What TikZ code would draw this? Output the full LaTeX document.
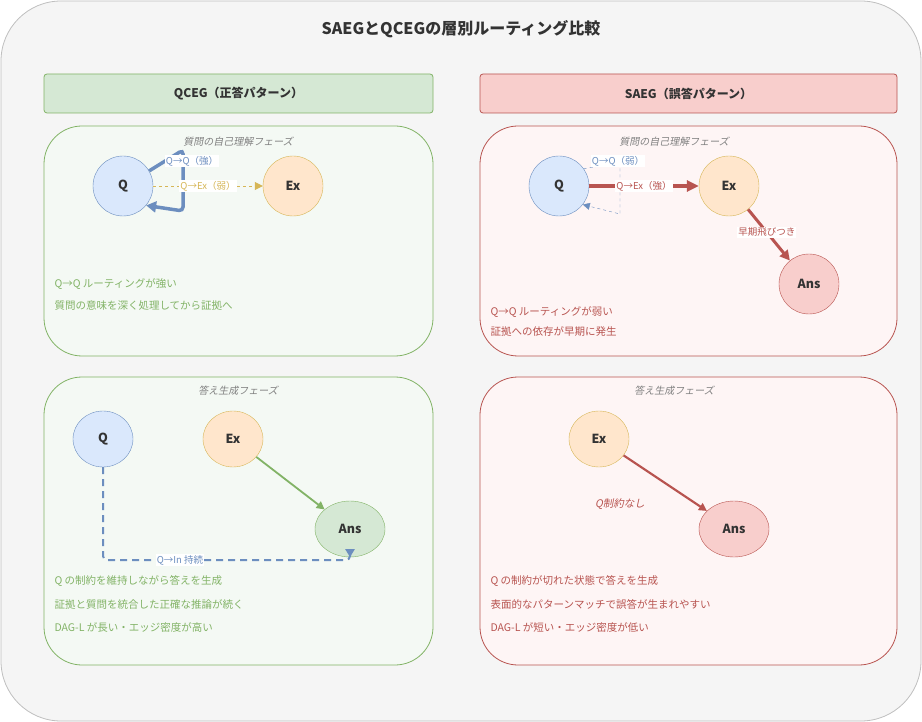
\documentclass[tikz,border=0pt]{standalone}
\usepackage{fontspec}
\setmainfont{Noto Sans CJK JP}
\newfontfamily\slantfont[FakeSlant=0.2]{Noto Sans CJK JP}
\usetikzlibrary{arrows.meta, positioning, shapes, calc}
\definecolor{gfill}{HTML}{D5E8D4}
\definecolor{gline}{HTML}{82B366}
\definecolor{rfill}{HTML}{F8CECC}
\definecolor{rline}{HTML}{B85450}
\definecolor{bfill}{HTML}{DAE8FC}
\definecolor{bline}{HTML}{6C8EBF}
\definecolor{yfill}{HTML}{FFE6CC}
\definecolor{yline}{HTML}{D6B656}
\definecolor{ink}{HTML}{333333}

\begin{document}
\begin{tikzpicture}
[
    x=1pt, y=-1pt,
    panel/.style={draw, rounded corners=38pt, line width=0.8pt},
    header/.style={draw, rounded corners=3pt, line width=0.8pt, font=\fontsize{12}{14}\selectfont\bfseries, text=ink},
    phase/.style={font=\fontsize{10}{12}\selectfont\slantfont, text=gray},
    qnode/.style={circle, draw=bline, fill=bfill, minimum size=60pt, font=\fontsize{12.5}{14}\selectfont\bfseries, text=ink},
    exnode/.style={circle, draw=yline, fill=yfill, minimum size=60pt, font=\fontsize{12.5}{14}\selectfont\bfseries, text=ink},
    qoval/.style={ellipse, draw=bline, fill=bfill, minimum width=60pt, minimum height=56pt, font=\fontsize{12.5}{14}\selectfont\bfseries, text=ink},
    exoval/.style={ellipse, draw=yline, fill=yfill, minimum width=60pt, minimum height=56pt, font=\fontsize{12.5}{14}\selectfont\bfseries, text=ink},
    ansoval/.style={ellipse, minimum width=70pt, minimum height=56pt, font=\fontsize{12.5}{14}\selectfont\bfseries, text=ink},
    note/.style={anchor=west, font=\fontsize{10.5}{12}\selectfont},
    elabel/.style={fill=white, inner sep=1pt, font=\fontsize{9.5}{10}\selectfont},
    arrow/.style={-{Triangle[length=8pt,width=8pt]}}
]

% Background and title
\draw[fill=black!4, draw=black!25, line width=0.8pt, rounded corners=60pt] (1,1) rectangle (921,721);
\node[font=\fontsize{16}{19}\selectfont\bfseries, text=ink] (title) at (461,29) {SAEGとQCEGの層別ルーティング比較};

% Column headers
\node[header, fill=gfill, draw=gline, minimum width=389pt, minimum height=39pt] (hq) at (238.5,93.5) {QCEG（正答パターン）};
\node[header, fill=rfill, draw=rline, minimum width=417pt, minimum height=39pt] (hs) at (688.5,93.5) {SAEG（誤答パターン）};

% Panels
\draw[panel, draw=gline, fill=gfill!25] (44,126) rectangle (433,356);
\draw[panel, draw=rline, fill=rfill!20] (480,126) rectangle (897,356);
\draw[panel, draw=gline, fill=gfill!25] (44,377) rectangle (433,665);
\draw[panel, draw=rline, fill=rfill!20] (480,377) rectangle (897,665);

\node[phase] (p1) at (238,142) {質問の自己理解フェーズ};
\node[phase] (p2) at (674,142) {質問の自己理解フェーズ};
\node[phase] (p3) at (238,391) {答え生成フェーズ};
\node[phase] (p4) at (674,391) {答え生成フェーズ};

% QCEG, self-understanding
\node[qnode] (q1) at (123,186) {Q};
\node[exnode] (ex1) at (293,186) {Ex};
\draw[bline, line width=3.5pt, rounded corners=4pt, -{Triangle[length=10pt,width=11pt]}]
    (q1.30) -- (183,150) -- (183,211) -- (q1.-40);
\node[elabel, text=bline] (l1) at (192,161) {Q→Q（強）};
\draw[yline, dashed, arrow] (q1) -- node[elabel, text=yline] {Q→Ex（弱）} (ex1);
\node[note, text=gline] (n1) at (51,284) {Q→Q ルーティングが強い};
\node[note, text=gline] (n2) at (51,306) {質問の意味を深く処理してから証拠へ};

% SAEG, self-understanding
\node[qnode] (q2) at (559,186) {Q};
\node[exnode] (ex2) at (729,186) {Ex};
\node[circle, draw=rline, fill=rfill, minimum size=60pt, font=\fontsize{12.5}{14}\selectfont\bfseries, text=ink] (ans2) at (809,284) {Ans};
\draw[bline, dashed, -{Triangle[length=7pt,width=7pt]}]
    (q2.35) -- (620,163) -- (620,214) -- (q2.-38);
\node[elabel, text=bline] (l2) at (618,161) {Q→Q（弱）};
\draw[rline, line width=3.5pt, -{Triangle[length=12pt,width=11pt]}] (q2) -- node[elabel, text=rline] {Q→Ex（強）} (ex2);
\draw[rline, line width=3pt, -{Triangle[length=10pt,width=10pt]}] (ex2) -- node[elabel, text=rline, pos=0.45] {早期飛びつき} (ans2);
\node[note, text=rline] (n3) at (487,312) {Q→Q ルーティングが弱い};
\node[note, text=rline] (n4) at (487,332) {証拠への依存が早期に発生};

% QCEG, answer generation
\node[qoval] (q3) at (103,439) {Q};
\node[exoval] (ex3) at (233,439) {Ex};
\node[ansoval, draw=gline, fill=gfill] (ans3) at (350,529) {Ans};
\draw[gline, line width=1.8pt, arrow] (ex3) -- (ans3);
\coordinate (bend3) at (103,560);
\draw[bline, line width=2pt, dash pattern=on 7pt off 5pt, rounded corners=4pt, -{Triangle[length=8pt,width=9pt]}]
    (q3.south) -- (bend3) -| (ans3.south);
\node[elabel, text=bline] (l3) at (180,560) {Q→In 持続};
\node[note, text=gline] (n5) at (51,581) {Q の制約を維持しながら答えを生成};
\node[note, text=gline] (n6) at (51,604) {証拠と質問を統合した正確な推論が続く};
\node[note, text=gline] (n7) at (51,627) {DAG-L が長い・エッジ密度が高い};

% SAEG, answer generation
\node[exoval] (ex4) at (599,439) {Ex};
\node[ansoval, draw=rline, fill=rfill] (ans4) at (734,529) {Ans};
\draw[rline, line width=2.2pt, arrow] (ex4) -- (ans4);
\node[font=\fontsize{10.5}{12}\selectfont\slantfont, text=rline] (l4) at (620,504) {Q制約なし};
\node[note, text=rline] (n8) at (487,581) {Q の制約が切れた状態で答えを生成};
\node[note, text=rline] (n9) at (487,604) {表面的なパターンマッチで誤答が生まれやすい};
\node[note, text=rline] (n10) at (487,627) {DAG-L が短い・エッジ密度が低い};

\useasboundingbox (0,0) rectangle (922,722);
\end{tikzpicture}
\end{document}
